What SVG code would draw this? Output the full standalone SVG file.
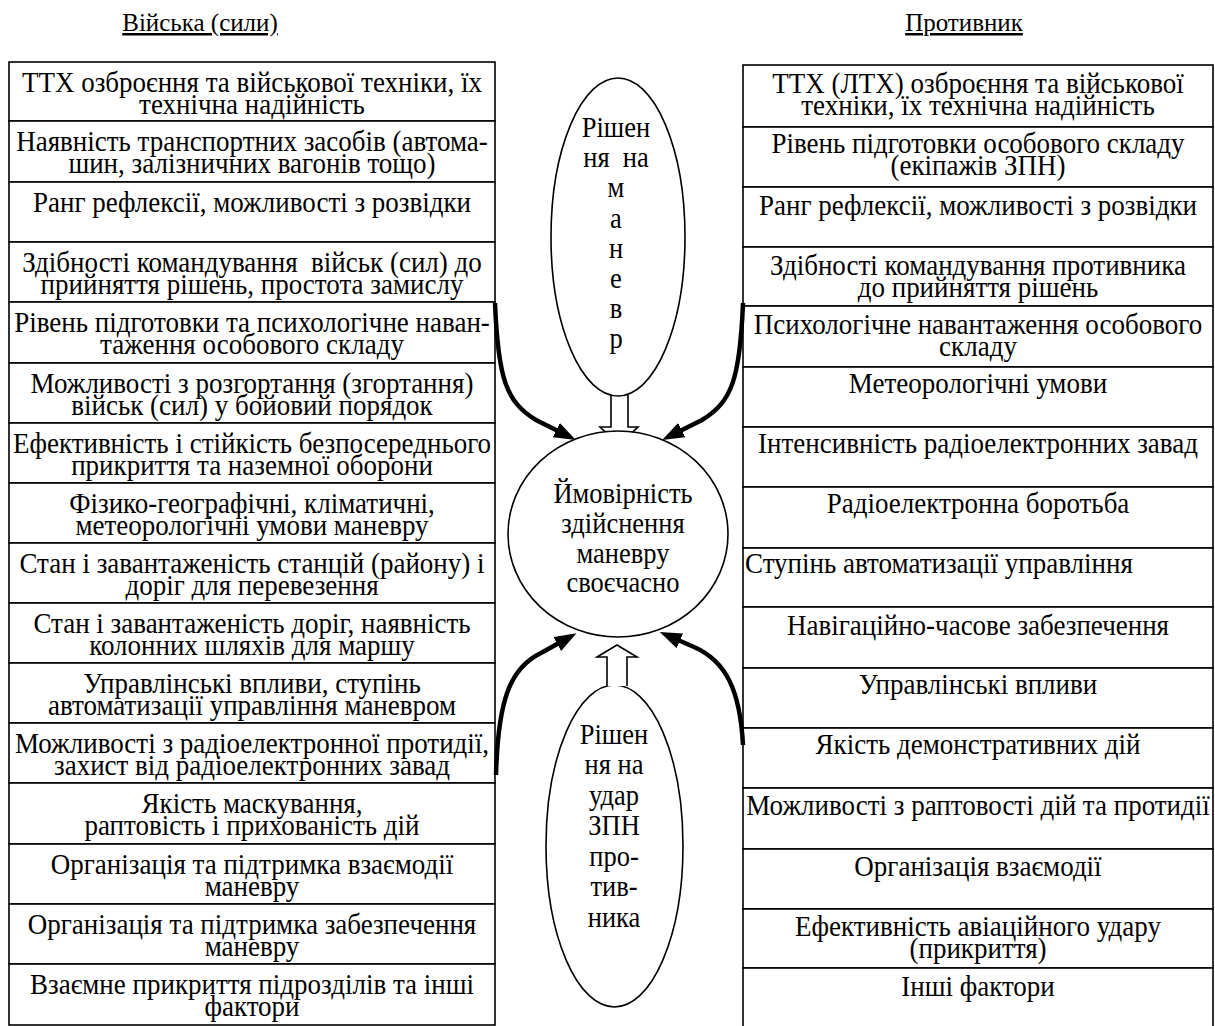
<svg xmlns="http://www.w3.org/2000/svg" width="1215" height="1026" viewBox="0 0 1215 1026">
<style>
.bg{fill:#fff}
.box{fill:#fff;stroke:#000;stroke-width:1.6}
.t{font-family:"Liberation Serif","Times New Roman",serif;font-size:27px;fill:#000;text-anchor:middle}
.ts{text-anchor:start}
.pre{white-space:pre}
.title{font-family:"Liberation Serif","Times New Roman",serif;font-size:25px;fill:#000;text-anchor:middle;text-decoration:underline}
.el{fill:#fff;stroke:#000;stroke-width:1.6}
.et{font-family:"Liberation Serif","Times New Roman",serif;font-size:26.5px;fill:#000;text-anchor:middle}
.conn{fill:none;stroke:#000;stroke-width:4.5}
.hollow{fill:#fff;stroke:#000;stroke-width:1.6;stroke-linejoin:miter}
</style>
<defs>
<marker id="ah" markerUnits="userSpaceOnUse" markerWidth="22" markerHeight="16" viewBox="0 0 22 16" refX="2" refY="8" orient="auto">
<path d="M0,0 L22,8 L0,16 z" fill="#000"/>
</marker>
</defs>
<rect class="bg" x="0" y="0" width="1215" height="1026"/>

<g id="titles">
<text class="title" x="200" y="31">Війська (сили)</text>
<text class="title" x="964" y="31">Противник</text>
</g>

<g id="left-column">
<g id="L1"><rect class="box" x="9" y="62" width="486" height="59"/><text class="t" transform="translate(252,92) scale(1,1.08)"><tspan x="0" y="0">ТТХ озброєння та військової техніки, їх</tspan><tspan x="0" y="20.4">технічна надійність</tspan></text></g>
<g id="L2"><rect class="box" x="9" y="121" width="486" height="61"/><text class="t" transform="translate(252,151) scale(1,1.08)"><tspan x="0" y="0">Наявність транспортних засобів (автома-</tspan><tspan x="0" y="20.4">шин, залізничних вагонів тощо)</tspan></text></g>
<g id="L3"><rect class="box" x="9" y="182" width="486" height="60"/><text class="t" transform="translate(252,212) scale(1,1.08)"><tspan x="0" y="0">Ранг рефлексії, можливості з розвідки</tspan></text></g>
<g id="L4"><rect class="box" x="9" y="242" width="486" height="60"/><text class="t pre" transform="translate(252,272) scale(1,1.08)"><tspan x="0" y="0">Здібності командування  військ (сил) до</tspan><tspan x="0" y="20.4">прийняття рішень, простота замислу</tspan></text></g>
<g id="L5"><rect class="box" x="9" y="302" width="486" height="61"/><text class="t" transform="translate(252,332) scale(1,1.08)"><tspan x="0" y="0">Рівень підготовки та психологічне наван-</tspan><tspan x="0" y="20.4">таження особового складу</tspan></text></g>
<g id="L6"><rect class="box" x="9" y="363" width="486" height="60"/><text class="t" transform="translate(252,393) scale(1,1.08)"><tspan x="0" y="0">Можливості з розгортання (згортання)</tspan><tspan x="0" y="20.4">військ (сил) у бойовий порядок</tspan></text></g>
<g id="L7"><rect class="box" x="9" y="423" width="486" height="60"/><text class="t" transform="translate(252,453) scale(1,1.08)"><tspan x="0" y="0">Ефективність і стійкість безпосереднього</tspan><tspan x="0" y="20.4">прикриття та наземної оборони</tspan></text></g>
<g id="L8"><rect class="box" x="9" y="483" width="486" height="60"/><text class="t" transform="translate(252,513) scale(1,1.08)"><tspan x="0" y="0">Фізико-географічні, кліматичні,</tspan><tspan x="0" y="20.4">метеорологічні умови маневру</tspan></text></g>
<g id="L9"><rect class="box" x="9" y="543" width="486" height="60"/><text class="t" transform="translate(252,573) scale(1,1.08)"><tspan x="0" y="0">Стан і завантаженість станцій (району) і</tspan><tspan x="0" y="20.4">доріг для перевезення</tspan></text></g>
<g id="L10"><rect class="box" x="9" y="603" width="486" height="60"/><text class="t" transform="translate(252,633) scale(1,1.08)"><tspan x="0" y="0">Стан і завантаженість доріг, наявність</tspan><tspan x="0" y="20.4">колонних шляхів для маршу</tspan></text></g>
<g id="L11"><rect class="box" x="9" y="663" width="486" height="60"/><text class="t" transform="translate(252,693) scale(1,1.08)"><tspan x="0" y="0">Управлінські впливи, ступінь</tspan><tspan x="0" y="20.4">автоматизації управління маневром</tspan></text></g>
<g id="L12"><rect class="box" x="9" y="723" width="486" height="60"/><text class="t" transform="translate(252,753) scale(1,1.08)"><tspan x="0" y="0">Можливості з радіоелектронної протидії,</tspan><tspan x="0" y="20.4">захист від радіоелектронних завад</tspan></text></g>
<g id="L13"><rect class="box" x="9" y="783" width="486" height="61"/><text class="t" transform="translate(252,813) scale(1,1.08)"><tspan x="0" y="0">Якість маскування,</tspan><tspan x="0" y="20.4">раптовість і прихованість дій</tspan></text></g>
<g id="L14"><rect class="box" x="9" y="844" width="486" height="60"/><text class="t" transform="translate(252,874) scale(1,1.08)"><tspan x="0" y="0">Організація та підтримка взаємодії</tspan><tspan x="0" y="20.4">маневру</tspan></text></g>
<g id="L15"><rect class="box" x="9" y="904" width="486" height="60"/><text class="t" transform="translate(252,934) scale(1,1.08)"><tspan x="0" y="0">Організація та підтримка забезпечення</tspan><tspan x="0" y="20.4">маневру</tspan></text></g>
<g id="L16"><rect class="box" x="9" y="964" width="486" height="61"/><text class="t" transform="translate(252,994) scale(1,1.08)"><tspan x="0" y="0">Взаємне прикриття підрозділів та інші</tspan><tspan x="0" y="20.4">фактори</tspan></text></g>
</g>

<g id="right-column">
<g id="R1"><rect class="box" x="743" y="65" width="470" height="62"/><text class="t" transform="translate(978,93) scale(1,1.08)"><tspan x="0" y="0">ТТХ (ЛТХ) озброєння та військової</tspan><tspan x="0" y="20.4">техніки, їх технічна надійність</tspan></text></g>
<g id="R2"><rect class="box" x="743" y="127" width="470" height="60"/><text class="t" transform="translate(978,153) scale(1,1.08)"><tspan x="0" y="0">Рівень підготовки особового складу</tspan><tspan x="0" y="20.4">(екіпажів ЗПН)</tspan></text></g>
<g id="R3"><rect class="box" x="743" y="187" width="470" height="60"/><text class="t" transform="translate(978,215) scale(1,1.08)">Ранг рефлексії, можливості з розвідки</text></g>
<g id="R4"><rect class="box" x="743" y="247" width="470" height="59"/><text class="t" transform="translate(978,275) scale(1,1.08)"><tspan x="0" y="0">Здібності командування противника</tspan><tspan x="0" y="20.4">до прийняття рішень</tspan></text></g>
<g id="R5"><rect class="box" x="743" y="306" width="470" height="61"/><text class="t" transform="translate(978,334) scale(1,1.08)"><tspan x="0" y="0">Психологічне навантаження особового</tspan><tspan x="0" y="20.4">складу</tspan></text></g>
<g id="R6"><rect class="box" x="743" y="367" width="470" height="60"/><text class="t" transform="translate(978,393) scale(1,1.08)">Метеорологічні умови</text></g>
<g id="R7"><rect class="box" x="743" y="427" width="470" height="60"/><text class="t" transform="translate(978,453) scale(1,1.08)">Інтенсивність радіоелектронних завад</text></g>
<g id="R8"><rect class="box" x="743" y="487" width="470" height="61"/><text class="t" transform="translate(978,513) scale(1,1.08)">Радіоелектронна боротьба</text></g>
<g id="R9"><rect class="box" x="743" y="548" width="470" height="59"/><text class="t ts" transform="translate(745,573) scale(1,1.08)">Ступінь автоматизації управління</text></g>
<g id="R10"><rect class="box" x="743" y="607" width="470" height="61"/><text class="t" transform="translate(978,635) scale(1,1.08)">Навігаційно-часове забезпечення</text></g>
<g id="R11"><rect class="box" x="743" y="668" width="470" height="60"/><text class="t" transform="translate(978,694) scale(1,1.08)">Управлінські впливи</text></g>
<g id="R12"><rect class="box" x="743" y="728" width="470" height="60"/><text class="t" transform="translate(978,754) scale(1,1.08)">Якість демонстративних дій</text></g>
<g id="R13"><rect class="box" x="743" y="788" width="470" height="61"/><text class="t" transform="translate(978,815) scale(1,1.08)">Можливості з раптовості дій та протидії</text></g>
<g id="R14"><rect class="box" x="743" y="849" width="470" height="60"/><text class="t" transform="translate(978,876) scale(1,1.08)">Організація взаємодії</text></g>
<g id="R15"><rect class="box" x="743" y="909" width="470" height="59"/><text class="t" transform="translate(978,936) scale(1,1.08)"><tspan x="0" y="0">Ефективність авіаційного удару</tspan><tspan x="0" y="20.4">(прикриття)</tspan></text></g>
<g id="R16"><rect class="box" x="743" y="968" width="470" height="64"/><text class="t" transform="translate(978,996) scale(1,1.08)">Інші фактори</text></g>
</g>

<g id="decision-maneuver">
<ellipse class="el" cx="618" cy="237" rx="67" ry="159"/>
<text class="et pre" transform="translate(616,137) scale(1,1.08)"><tspan x="0" y="0">Рішен</tspan><tspan x="0" y="27.8">ня  на</tspan><tspan x="0" y="55.6">м</tspan><tspan x="0" y="84.3">а</tspan><tspan x="0" y="112">н</tspan><tspan x="0" y="139.8">е</tspan><tspan x="0" y="167.6">в</tspan><tspan x="0" y="195.4">р</tspan></text>
</g>

<g id="probability">
<ellipse class="el" cx="618" cy="534" rx="110" ry="103"/>
<text class="et" transform="translate(623,503) scale(1,1.08)"><tspan x="0" y="0">Ймовірність</tspan><tspan x="0" y="27.8">здійснення</tspan><tspan x="0" y="55.6">маневру</tspan><tspan x="0" y="82.4">своєчасно</tspan></text>
</g>

<g id="decision-strike">
<ellipse class="el" cx="614.5" cy="846" rx="68.5" ry="161"/>
<text class="et" transform="translate(614,744) scale(1,1.08)"><tspan x="0" y="0">Рішен</tspan><tspan x="0" y="28.2">ня на</tspan><tspan x="0" y="56.5">удар</tspan><tspan x="0" y="84.7">ЗПН</tspan><tspan x="0" y="112.9">про-</tspan><tspan x="0" y="141.2">тив-</tspan><tspan x="0" y="169.4">ника</tspan></text>
</g>

<g id="connectors">
<path class="hollow" style="fill:none" d="M611,395 V427 H600 L605,431.7 M632.8,431.9 L638,427 H628 V395"/>
<path class="hollow" d="M607,686 V657 H597 L617,645 L637,657 H627 V686"/>
<path class="conn" marker-end="url(#ah)" d="M495,303 C498,378 506,402 536,420 L558,431"/>
<path class="conn" marker-end="url(#ah)" d="M743,303 C740,378 732,402 702,420 L680,431"/>
<path class="conn" marker-end="url(#ah)" d="M496,775 C498,700 510,668 541,653 L559,643"/>
<path class="conn" marker-end="url(#ah)" d="M743,745 C740,690 726,661 694,647 L678,640"/>
</g>
</svg>
